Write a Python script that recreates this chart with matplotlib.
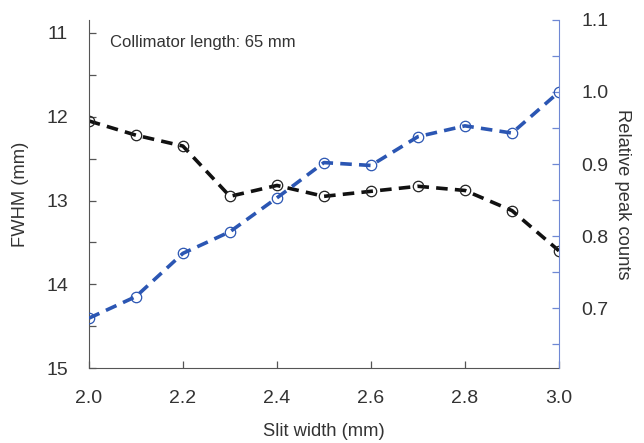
import matplotlib
matplotlib.use('Agg')
import matplotlib.pyplot as plt
from matplotlib.ticker import MultipleLocator

plt.rcParams['font.family'] = ['Liberation Sans', 'DejaVu Sans']

# data
slit_width = [2.0, 2.1, 2.2, 2.3, 2.4, 2.5, 2.6, 2.7, 2.8, 2.9, 3.0]
fwhm = [12.05, 12.22, 12.35, 12.95, 12.82, 12.95, 12.89, 12.83, 12.88, 13.12, 13.6]
rel_counts = [0.686, 0.716, 0.776, 0.806, 0.853, 0.902, 0.898, 0.938, 0.953, 0.943, 1.0]

txt = '#333333'
blue = '#2b56b3'
spine_blue = '#6f88d4'

fig = plt.figure(figsize=(6.44, 4.43), dpi=100)
ax = fig.add_axes([0.138, 0.169, 0.730, 0.786])
ax2 = ax.twinx()

ax.plot(slit_width, fwhm, color='#111111', lw=2.6, dashes=(3.2, 2.0),
        marker='o', ms=7.5, mfc='none', mec='#222222', mew=0.9)
ax2.plot(slit_width, rel_counts, color=blue, lw=2.6, dashes=(3.2, 2.0),
         marker='o', ms=7.5, mfc='none', mec=blue, mew=0.9)

ax.set_xlim(2.0, 3.0)
ax.set_ylim(15, 10.845)
ax2.set_ylim(0.6167, 1.1)

ax.yaxis.set_minor_locator(MultipleLocator(0.5))
ax2.yaxis.set_minor_locator(MultipleLocator(0.05))
ax.set_xticks([2.0, 2.2, 2.4, 2.6, 2.8, 3.0])
ax.set_xticklabels(['2.0', '2.2', '2.4', '2.6', '2.8', '3.0'])
ax.set_yticks([11, 12, 13, 14, 15])
ax2.set_yticks([0.7, 0.8, 0.9, 1.0, 1.1])
ax2.set_yticklabels(['0.7', '0.8', '0.9', '1.0', '1.1'])

for a in (ax, ax2):
    a.spines['top'].set_visible(False)
ax.spines['right'].set_visible(False)
ax.spines['left'].set_color('#555555')
ax.spines['bottom'].set_color('#555555')
ax2.spines['left'].set_visible(False)
ax2.spines['bottom'].set_visible(False)
ax2.spines['right'].set_color(spine_blue)

ax.tick_params(axis='both', which='both', direction='in', colors='#555555',
               labelcolor=txt, labelsize=14, width=0.9)
ax.tick_params(axis='y', which='major', length=5, pad=15)
ax.tick_params(axis='y', which='minor', length=5)
ax.tick_params(axis='x', which='major', length=5, pad=16)
ax2.tick_params(axis='y', which='both', direction='in', colors=spine_blue,
                labelcolor=txt, labelsize=14, width=0.9, length=5, pad=16)

ax.set_xlabel('Slit width (mm)', fontsize=13.2, color=txt, labelpad=11)
ax.set_ylabel('FWHM (mm)', fontsize=13.2, color=txt, labelpad=12)
ax2.set_ylabel('Relative peak counts', fontsize=13.2, color=txt,
               rotation=270, labelpad=16)

ax.text(0.045, 0.935, 'Collimator length: 65 mm', transform=ax.transAxes,
        fontsize=12, color=txt, va='center', ha='left')

fig.savefig('out.png', dpi=100)
